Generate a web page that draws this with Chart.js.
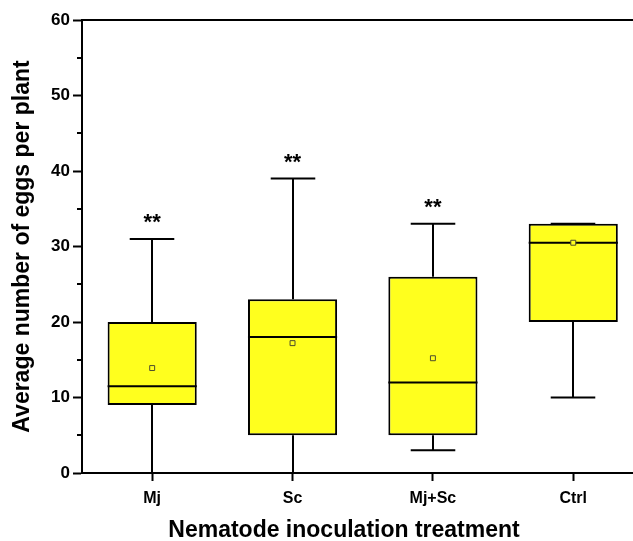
<!DOCTYPE html>
<html>
<head>
<meta charset="utf-8">
<script src="https://cdn.jsdelivr.net/npm/chart.js@4.4.1/dist/chart.umd.min.js"></script>
<style>
  html, body { margin: 0; padding: 0; background: #ffffff; }
  canvas { display: block; }
</style>
</head>
<body>
<canvas id="chart" width="633" height="541"></canvas>
<script>
// Egg counts per plant for each nematode inoculation treatment (box-and-whisker summary)
const categories  = ['Mj', 'Sc', 'Mj+Sc', 'Ctrl'];
const whiskerLow  = [0, 0, 3, 10];
const quartile1   = [9, 5, 5, 20];
const medians     = [11.5, 18, 12, 30.5];
const quartile3   = [20, 23, 26, 33];
const whiskerHigh = [31, 39, 33, 33];
const means       = [13.9, 17.2, 15.2, 30.5];
const significance = ['**', '**', '**', ''];
const yTickValues = [0, 10, 20, 30, 40, 50, 60];
const yMinorTicks = [5, 15, 25, 35, 45, 55];

const FONT = '"Liberation Sans", Arial, Helvetica, sans-serif';
const INK = '#000000';
const BOX_FILL = '#ffff1e';

// Whiskers, caps, medians, minor ticks, top frame line and significance marks
const boxPlotExtras = {
  id: 'boxPlotExtras',
  afterDatasetDraw(chart, args) {
    if (args.index !== 0) return;
    const ctx = chart.ctx;
    const y = chart.scales.y;
    const meta = args.meta;
    ctx.save();
    ctx.strokeStyle = INK;
    ctx.lineWidth = 2;
    ctx.lineCap = 'butt';
    meta.data.forEach((bar, i) => {
      const cx = Math.round(bar.x);
      const half = bar.width / 2;
      const capHalf = bar.width / 4;
      const pHigh = y.getPixelForValue(whiskerHigh[i]);
      const pLow = y.getPixelForValue(whiskerLow[i]);
      const pQ1 = y.getPixelForValue(quartile1[i]);
      const pQ3 = y.getPixelForValue(quartile3[i]);
      const pMed = y.getPixelForValue(medians[i]);
      ctx.beginPath();
      // upper whisker + cap
      ctx.moveTo(cx, pQ3); ctx.lineTo(cx, pHigh);
      ctx.moveTo(cx - capHalf, pHigh); ctx.lineTo(cx + capHalf, pHigh);
      // lower whisker + cap
      ctx.moveTo(cx, pQ1); ctx.lineTo(cx, pLow);
      ctx.moveTo(cx - capHalf, pLow); ctx.lineTo(cx + capHalf, pLow);
      // median
      ctx.moveTo(bar.x - half, pMed); ctx.lineTo(bar.x + half, pMed);
      ctx.stroke();
    });
    ctx.restore();
  },
  afterDraw(chart) {
    const ctx = chart.ctx;
    const y = chart.scales.y;
    const x = chart.scales.x;
    const area = chart.chartArea;
    ctx.save();
    ctx.strokeStyle = INK;
    ctx.lineWidth = 2;
    // top frame line
    ctx.beginPath();
    ctx.moveTo(area.left, Math.round(area.top));
    ctx.lineTo(chart.width, Math.round(area.top));
    // bottom axis line runs on to the right edge
    ctx.moveTo(area.right - 2, Math.round(area.bottom));
    ctx.lineTo(chart.width, Math.round(area.bottom));
    // minor ticks on the value axis
    yMinorTicks.forEach(v => {
      const py = Math.round(y.getPixelForValue(v));
      ctx.moveTo(area.left - 5, py);
      ctx.lineTo(area.left, py);
    });
    ctx.stroke();
    // significance marks above the upper whiskers
    ctx.fillStyle = INK;
    ctx.font = 'bold 22px ' + FONT;
    ctx.textAlign = 'center';
    ctx.textBaseline = 'alphabetic';
    significance.forEach((s, i) => {
      if (!s) return;
      const px = x.getPixelForValue(i + 1);
      const py = y.getPixelForValue(whiskerHigh[i]) - 22;
      ctx.fillText(s, px, py + 12);
    });
    // horizontal axis title
    ctx.font = 'bold 23px ' + FONT;
    ctx.textBaseline = 'alphabetic';
    ctx.fillText('Nematode inoculation treatment', 344, 537);
    ctx.restore();
  }
};

new Chart(document.getElementById('chart'), {
  type: 'bar',
  data: {
    datasets: [
      {
        type: 'bar',
        label: 'Interquartile range',
        data: categories.map((c, i) => ({ x: i + 1, y: [quartile1[i], quartile3[i]] })),
        backgroundColor: BOX_FILL,
        borderColor: INK,
        borderWidth: 2,
        borderSkipped: false,
        categoryPercentage: 1,
        barPercentage: 0.635,
        order: 2
      },
      {
        type: 'scatter',
        label: 'Mean',
        data: categories.map((c, i) => ({ x: i + 1, y: means[i] })),
        pointStyle: 'rect',
        pointRadius: 3.5,
        backgroundColor: BOX_FILL,
        borderColor: '#4d4d2e',
        borderWidth: 1,
        order: 1
      }
    ]
  },
  options: {
    responsive: false,
    animation: false,
    devicePixelRatio: 1,
    layout: { padding: { top: 20, right: 0, bottom: 0, left: 0 } },
    plugins: {
      legend: { display: false },
      tooltip: { enabled: false }
    },
    scales: {
      x: {
        type: 'linear',
        min: 0.5,
        max: 4.39,
        offset: false,
        afterBuildTicks(scale) {
          scale.ticks = categories.map((c, i) => ({ value: i + 1 }));
        },
        afterFit(scale) { scale.height = 68; },
        ticks: {
          autoSkip: false,
          maxRotation: 0,
          padding: 8,
          color: INK,
          font: { family: FONT, size: 16, weight: 'bold' },
          callback: (v) => categories[Math.round(v) - 1]
        },
        grid: {
          offset: false,
          drawOnChartArea: false,
          drawTicks: true,
          tickLength: 8,
          tickWidth: 2,
          tickColor: INK
        },
        border: { display: true, color: INK, width: 2 },
        title: { display: false }
      },
      y: {
        type: 'linear',
        min: 0,
        max: 60,
        afterBuildTicks(scale) {
          scale.ticks = yTickValues.map(v => ({ value: v }));
        },
        afterFit(scale) { scale.width = 82; },
        ticks: {
          padding: 3,
          color: INK,
          font: { family: FONT, size: 17, weight: 'bold' }
        },
        grid: {
          drawOnChartArea: false,
          drawTicks: true,
          tickLength: 9,
          tickWidth: 2,
          tickColor: INK
        },
        border: { display: true, color: INK, width: 2 },
        title: {
          display: true,
          text: 'Average number of eggs per plant',
          color: INK,
          font: { family: FONT, size: 23, weight: 'bold' },
          padding: { top: 9, bottom: 0 }
        }
      }
    }
  },
  plugins: [boxPlotExtras]
});
</script>
</body>
</html>
